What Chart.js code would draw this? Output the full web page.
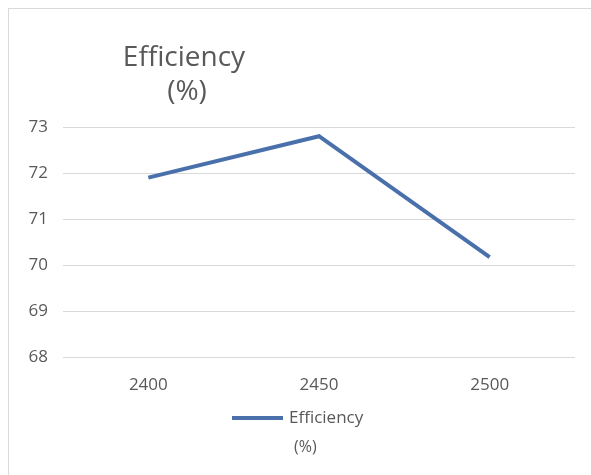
<!DOCTYPE html>
<html>
<head>
<meta charset="utf-8">
<script src="https://cdn.jsdelivr.net/npm/chart.js@4/dist/chart.umd.min.js"></script>
<style>
  html, body { margin: 0; padding: 0; background: #fff; }
  #wrap { position: relative; width: 591px; height: 475px; }
  #frame { position: absolute; left: 8px; top: 8px; right: 0; bottom: 0;
           border-top: 1px solid #d9d9d9; border-left: 1px solid #d9d9d9; pointer-events: none; }
</style>
</head>
<body>
<div id="wrap">
  <canvas id="c" width="591" height="475"></canvas>
  <div id="frame"></div>
</div>
<script>
const categories = ['2400', '2450', '2500'];
const efficiency = [71.9, 72.8, 70.17];
const yTicks = [68, 69, 70, 71, 72, 73];
const titleLines = ['Efficiency', '(%)'];
const legendLines = ['Efficiency', '(%)'];

const FONT = '"Open Sans", "Liberation Sans", sans-serif';
const GRAY = '#595959';
const BLUE = '#4a70ac';

const overlay = {
  id: 'overlay',
  afterDraw(chart) {
    const ctx = chart.ctx;
    ctx.save();
    ctx.fillStyle = GRAY;
    ctx.textAlign = 'center';
    ctx.textBaseline = 'alphabetic';
    ctx.font = '28px ' + FONT;
    ctx.fillText(titleLines[0], 184, 66);
    ctx.fillText(titleLines[1], 187, 100);
    // legend
    ctx.strokeStyle = BLUE;
    ctx.lineWidth = 4;
    ctx.beginPath();
    ctx.moveTo(232, 418);
    ctx.lineTo(283, 418);
    ctx.stroke();
    ctx.textAlign = 'left';
    ctx.textBaseline = 'middle';
    ctx.font = '17px ' + FONT;
    ctx.fillText(legendLines[0], 289, 418);
    ctx.font = '16px ' + FONT;
    ctx.fillText(legendLines[1], 294, 447);
    ctx.restore();
  }
};

new Chart(document.getElementById('c'), {
  type: 'line',
  data: {
    labels: categories,
    datasets: [{
      label: 'Efficiency (%)',
      data: efficiency,
      borderColor: BLUE,
      backgroundColor: BLUE,
      borderWidth: 4,
      pointRadius: 0,
      tension: 0,
      fill: false
    }]
  },
  options: {
    responsive: false,
    animation: false,
    events: [],
    layout: { padding: { top: 127, right: 16, bottom: 0, left: 0 } },
    plugins: { legend: { display: false }, title: { display: false }, tooltip: { enabled: false } },
    scales: {
      x: {
        offset: true,
        grid: { display: false, drawTicks: false },
        border: { display: false },
        ticks: { color: GRAY, font: { family: FONT, size: 17 }, padding: 18 },
        afterFit(s) { s.height = 118; }
      },
      y: {
        min: 68, max: 73,
        afterBuildTicks(s) { s.ticks = yTicks.map(v => ({ value: v })); },
        grid: { color: '#d9d9d9', lineWidth: 1, drawTicks: false },
        border: { display: false },
        ticks: { color: GRAY, font: { family: FONT, size: 17 }, padding: 15 },
        afterFit(s) { s.width = 63; }
      }
    }
  },
  plugins: [overlay]
});
</script>
</body>
</html>
